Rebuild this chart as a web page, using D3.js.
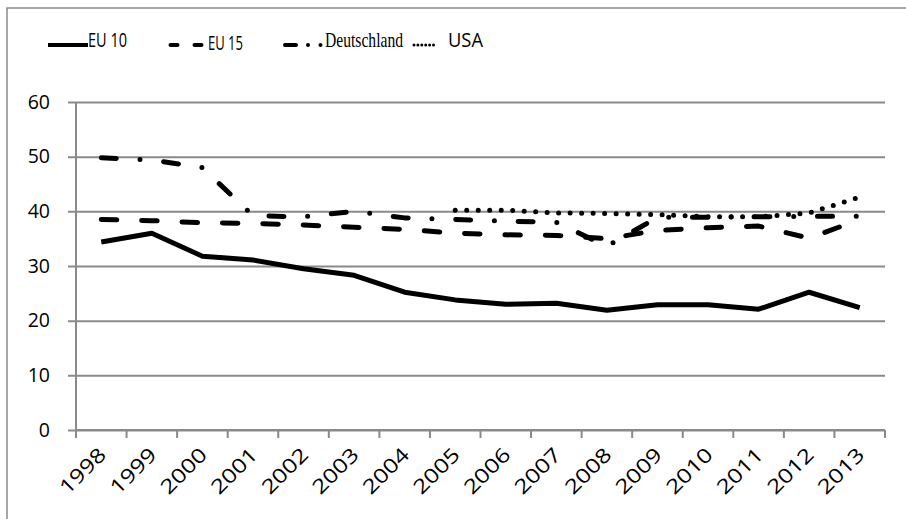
<!DOCTYPE html>
<html>
<head>
<meta charset="utf-8">
<script src="https://cdn.jsdelivr.net/npm/d3@7"></script>
<style>
  body { margin: 0; background: #fff; }
  svg { display: block; }
</style>
</head>
<body>
<div id="chart"></div>
<script>
const years = ["1998", "1999", "2000", "2001", "2002", "2003", "2004", "2005",
  "2006", "2007", "2008", "2009", "2010", "2011", "2012", "2013"];

const eu10 = [34.4, 36.0, 31.8, 31.1, 29.5, 28.3, 25.2, 23.8, 23.0, 23.2, 21.9, 22.9, 22.9, 22.1, 25.2, 22.4];
const eu15 = [38.5, 38.3, 37.9, 37.8, 37.5, 37.1, 36.7, 36.0, 35.7, 35.6, 35.0, 36.5, 37.0, 37.3, 35.1, 38.5];
const deutschland = [49.8, 49.4, 48.0, 39.2, 39.0, 40.0, 38.8, 38.5, 38.2, 38.0, 33.6, 38.9, 38.9, 39.0, 39.1, 39.1];
// USA erst ab 2005
const usa = [null, null, null, null, null, null, null, 40.2, 40.2, 39.7, 39.6, 39.4, 39.0, 39.0, 39.7, 42.6];

const yTicks = [0, 10, 20, 30, 40, 50, 60];

const series = [
  { name: "EU 10", values: eu10, dash: null },
  { name: "EU 15", values: eu15, dash: "15.5,24.9" },
  { name: "Deutschland", values: deutschland, dash: "15,23.75,0,23.75" },
  { name: "USA", values: usa, dash: "0,11.5" }
];

const W = 906, H = 519;
const margin = { top: 102, right: 21, bottom: 89, left: 76 };
const sansFont = "'Open Sans', Roboto, sans-serif";

const svg = d3.select("#chart").append("svg")
  .attr("width", W)
  .attr("height", H);

// Rahmen (nur links/oben sichtbar)
svg.append("rect")
  .attr("x", 7).attr("y", 8)
  .attr("width", 1000).attr("height", 1000)
  .attr("fill", "none")
  .attr("stroke", "#8a8a8a")
  .attr("stroke-width", 1.5);

const x = d3.scaleBand()
  .domain(years)
  .range([margin.left, W - margin.right])
  .padding(0);

const y = d3.scaleLinear()
  .domain([0, 60])
  .range([H - margin.bottom, margin.top]);

const cx = d => x(d) + x.bandwidth() / 2;
const plotW = W - margin.left - margin.right;

// Gitterlinien + y-Achse
const yAxis = svg.append("g")
  .attr("transform", `translate(${margin.left},0)`)
  .call(d3.axisLeft(y).tickValues(yTicks).tickSize(-plotW).tickPadding(26));
yAxis.select(".domain").remove();
yAxis.selectAll(".tick line")
  .attr("stroke", "#8a8a8a")
  .attr("stroke-width", 2)
  .attr("x1", -8)
  .attr("x2", plotW);
yAxis.selectAll(".tick text")
  .style("font-family", sansFont)
  .style("font-size", "19.5px")
  .attr("fill", "#000");

svg.append("line")
  .attr("x1", margin.left).attr("x2", margin.left)
  .attr("y1", margin.top).attr("y2", H - margin.bottom + 8)
  .attr("stroke", "#8a8a8a").attr("stroke-width", 2);

// x-Achse mit Ticks an den Kategoriegrenzen
const xAxisG = svg.append("g")
  .attr("transform", `translate(0,${H - margin.bottom})`);
xAxisG.append("line")
  .attr("x1", margin.left).attr("x2", W - margin.right)
  .attr("stroke", "#8a8a8a").attr("stroke-width", 2);
const bounds = years.map(d => x(d)).concat([W - margin.right]);
xAxisG.selectAll(".xtick")
  .data(bounds)
  .enter().append("line")
  .attr("class", "xtick")
  .attr("x1", d => d).attr("x2", d => d)
  .attr("y1", 0).attr("y2", 8)
  .attr("stroke", "#8a8a8a").attr("stroke-width", 2);
xAxisG.selectAll(".xlabel")
  .data(years)
  .enter().append("text")
  .attr("class", "xlabel")
  .attr("transform", d => `translate(${cx(d) + 6},${26}) rotate(-45)`)
  .attr("text-anchor", "end")
  .attr("textLength", 56)
  .attr("lengthAdjust", "spacingAndGlyphs")
  .style("font-family", sansFont)
  .style("font-size", "20px")
  .text(d => d);

// Linien
const line = d3.line()
  .x(d => cx(d.year))
  .y(d => y(d.v));

series.forEach(s => {
  const pts = years.map((yr, i) => ({ year: yr, v: s.values[i] })).filter(p => p.v != null);
  svg.append("path")
    .datum(pts)
    .attr("d", line)
    .attr("fill", "none")
    .attr("stroke", "#000")
    .attr("stroke-width", 5)
    .attr("stroke-linecap", s.dash ? "round" : "butt")
    .attr("stroke-linejoin", "round")
    .attr("stroke-dasharray", s.dash);
});

// Legende
const legend = svg.append("g").attr("id", "legend");
const legendItems = [
  { x1: 48, x2: 88, dash: null, w: 4, cap: "butt", tx: 88, ty: 47, tl: 39, font: sansFont, fs: 20 },
  { x1: 170.5, x2: 201.5, dash: "7,17", w: 4, cap: "round", tx: 208, ty: 50, tl: 35, font: sansFont, fs: 20 },
  { x1: 285, x2: 323, dash: "11,12,0,12.5,0,100", w: 4, cap: "round", tx: 325, ty: 47, tl: 78, font: "'Liberation Serif', serif", fs: 21 },
  { x1: 414, x2: 434, dash: "0,3.9", w: 3, cap: "round", tx: 448, ty: 47, tl: 35, font: sansFont, fs: 20 }
];
legendItems.forEach((it, i) => {
  legend.append("line")
    .attr("x1", it.x1).attr("x2", it.x2)
    .attr("y1", 45).attr("y2", 45)
    .attr("stroke", "#000")
    .attr("stroke-width", it.w)
    .attr("stroke-linecap", it.cap)
    .attr("stroke-dasharray", it.dash);
  legend.append("text")
    .attr("x", it.tx).attr("y", it.ty)
    .attr("textLength", it.tl)
    .attr("lengthAdjust", "spacingAndGlyphs")
    .style("font-family", it.font)
    .style("font-size", it.fs + "px")
    .text(series[i].name);
});
</script>
</body>
</html>
